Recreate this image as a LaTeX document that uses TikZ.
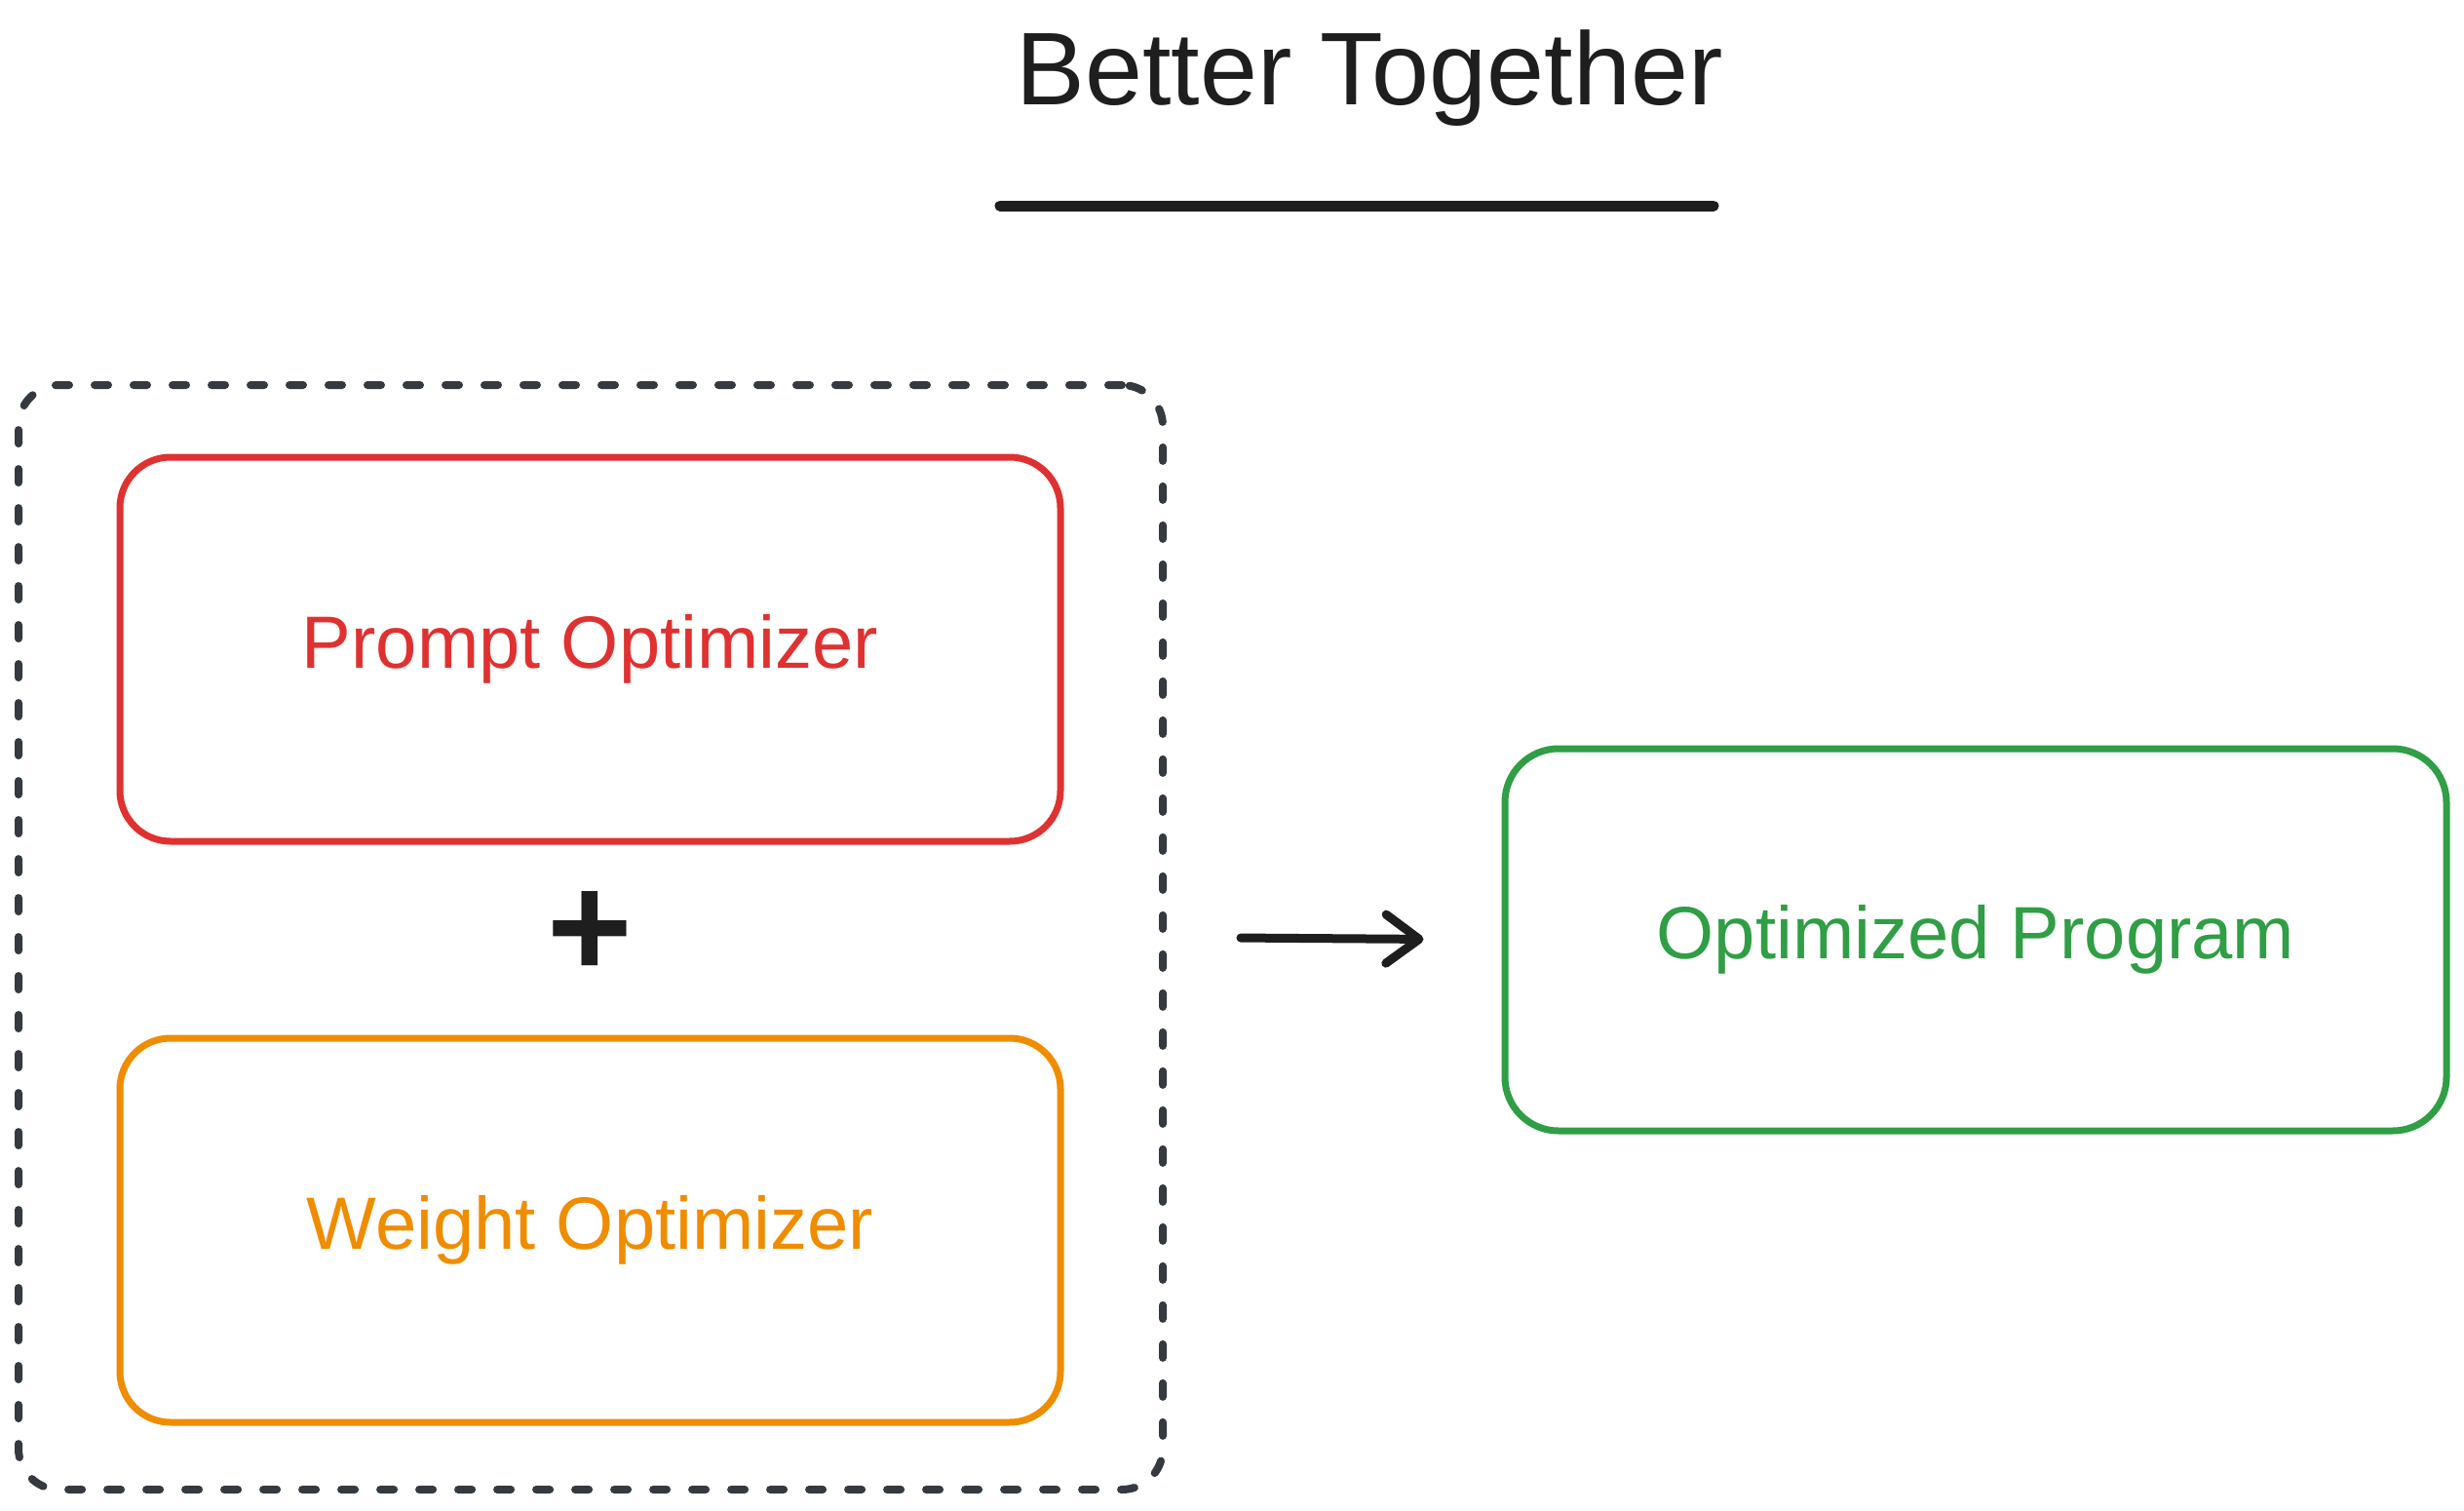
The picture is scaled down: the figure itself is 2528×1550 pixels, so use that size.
\documentclass[tikz,border=0pt]{standalone}
\usepackage{fontspec}
\setmainfont{Liberation Sans}
\usetikzlibrary{arrows.meta}
\definecolor{ink}{HTML}{1E1E1E}
\definecolor{dashink}{HTML}{343A40}
\definecolor{redink}{HTML}{E03131}
\definecolor{orangeink}{HTML}{F08C00}
\definecolor{greenink}{HTML}{2F9E44}
\tikzset{
  optbox/.style={draw, line width=7pt, rounded corners=52pt, minimum width=965pt, minimum height=394pt, inner sep=0pt, font=\fontsize{76}{90}\selectfont},
  groupbox/.style={draw=dashink, line width=8pt, line cap=round, dash pattern=on 14pt off 26pt, rounded corners=42pt, minimum width=1174pt, minimum height=1133pt, inner sep=0pt},
  plussign/.style={text=ink, font=\fontsize{150}{150}\selectfont\bfseries, inner sep=0pt},
  connector/.style={draw=ink, line width=9pt, line cap=round, -{Straight Barb[length=34pt,width=50pt,line cap=round,line join=round]}}
}
\begin{document}
\begin{tikzpicture}[x=1pt,y=-1pt]
  \useasboundingbox[fill=white] (0,0) rectangle (2528,1550);
  % title
  \node[anchor=base, text=ink, font=\fontsize{106}{120}\selectfont, inner sep=0pt] (title) at (1405,107) {Better Together};
  \coordinate (ulA) at (1026,211);
  \coordinate (ulB) at (1758,211);
  \draw[ink, line width=11pt, line cap=round] (ulA) -- (ulB);
  % group
  \node[groupbox] (group) at (606,961.5) {};
  \node[optbox, draw=redink, text=redink] (prompt) at (605.5,666) {Prompt Optimizer};
  \node[plussign] (plus) at (605,959) {+};
  \node[optbox, draw=orangeink, text=orangeink] (weight) at (605.5,1262) {Weight Optimizer};
  % result
  \node[optbox, draw=greenink, text=greenink, rounded corners=55pt, minimum width=966pt, minimum height=392pt] (result) at (2027,964) {Optimized Program};
  % arrow
  \draw[connector, shorten <=76pt, shorten >=80pt] (group.east) -- (result.west);
\end{tikzpicture}
\end{document}
